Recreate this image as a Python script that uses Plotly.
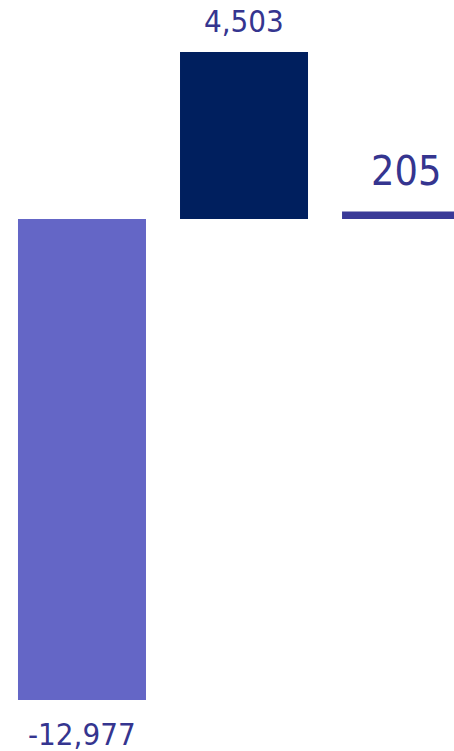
import plotly.graph_objects as go

categories = ["A", "B", "C"]
values = [-12977, 4503, 205]
labels = ["-12,977", "4,503", "205"]
bar_colors = ["#6466C6", "#001F5E", "#3A3A98"]
label_sizes = [31, 31, 41]
label_shifts = [-14, 11, 14]

x = list(range(len(categories)))
fig = go.Figure(go.Bar(x=x, y=values, marker=dict(color=bar_colors, line=dict(width=0)),
                       width=0.79, hoverinfo="skip"))

font_family = "Tahoma, 'DejaVu Sans Condensed', 'DejaVu Sans', sans-serif"
for xi, v, t, s, sh in zip(x, values, labels, label_sizes, label_shifts):
    fig.add_annotation(x=xi, y=v, text=t, showarrow=False,
                       yanchor="bottom" if v >= 0 else "top",
                       yshift=sh,
                       font=dict(family=font_family, size=s, color="#35358F"))

fig.update_layout(
    width=454, height=751,
    margin=dict(l=0, r=0, t=0, b=0),
    paper_bgcolor="white", plot_bgcolor="white",
    showlegend=False,
    hovermode=False,
    xaxis=dict(range=[-0.506, 2.296], visible=False, fixedrange=True),
    yaxis=dict(range=[-14353, 5908], visible=False, fixedrange=True),
)
fig.write_html("out.html",
               config={"displayModeBar": False, "staticPlot": True},
               post_script="document.body.style.margin='0';document.body.style.overflow='hidden';")
